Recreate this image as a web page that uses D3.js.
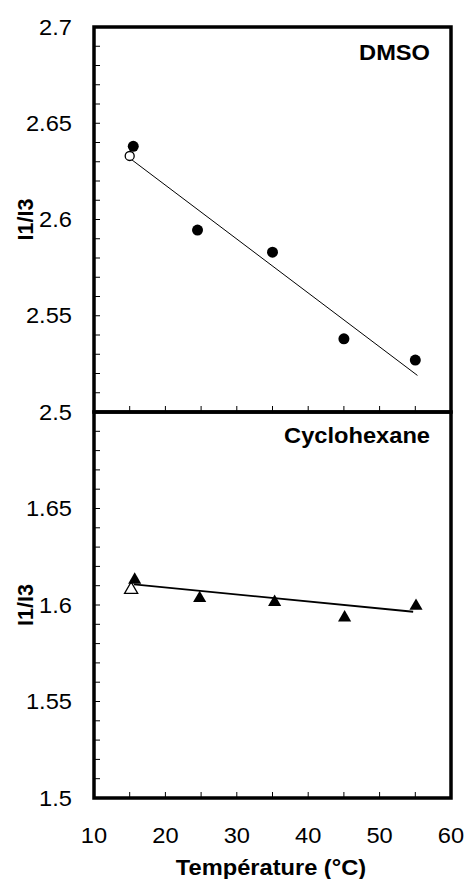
<!DOCTYPE html>
<html><head><meta charset="utf-8">
<script src="https://cdn.jsdelivr.net/npm/d3@7"></script>
<style>html,body{margin:0;padding:0;background:#fff;}svg{display:block;}</style>
</head><body>
<script>
// ---- data ----
const xTickLabels = [10, 20, 30, 40, 50, 60];
const topTickLabels = [2.5, 2.55, 2.6, 2.65, 2.7];
const botTickLabels = [1.5, 1.55, 1.6, 1.65];
const dmsoT = [15.5, 24.5, 35, 45, 55];
const dmsoI = [2.638, 2.5945, 2.583, 2.538, 2.527];
const dmsoOpenT = [15];
const dmsoOpenI = [2.633];
const dmsoFitT = [15.3, 55.3];
const dmsoFitI = [2.631, 2.519];
const cycT = [15.7, 24.8, 35.3, 45.1, 55.1];
const cycI = [1.6135, 1.604, 1.602, 1.594, 1.600];
const cycOpenT = [15.2];
const cycOpenI = [1.6085];
const cycFitT = [15.6, 54.7];
const cycFitI = [1.6107, 1.5965];

const W = 466, H = 879;
const FONT = "'Liberation Sans', Arial, sans-serif";
const SX = 1.1, FS = 21.5;

const svg = d3.select("body").append("svg").attr("width", W).attr("height", H);

const x = d3.scaleLinear().domain([10, 60]).range([94, 451]);
const yTop = d3.scaleLinear().domain([2.5, 2.7]).range([412, 27]);
const yBot = d3.scaleLinear().domain([1.5, 1.7]).range([798, 412]);

function txt(g, s, tx, ty, anchor, bold) {
  g.append("text").attr("transform", `translate(${tx},${ty}) scale(${SX},1)`)
    .attr("text-anchor", anchor).attr("font-family", FONT)
    .attr("font-size", FS).attr("font-weight", bold ? "bold" : "normal")
    .attr("fill", "#000").text(s);
}

function panel(y, labels, title, titleY, fitT, fitI, ptsT, ptsI, openT, openI, marker, fitW) {
  const g = svg.append("g");
  // inner ticks y
  const yTicks = d3.range(0, 21).map(i => y.domain()[0] + i * 0.01);
  g.selectAll(null).data(yTicks).enter().append("line")
    .attr("x1", x(10)).attr("x2", x(10) + 6)
    .attr("y1", d => y(d)).attr("y2", d => y(d))
    .attr("stroke", "#000").attr("stroke-width", 1);
  // inner ticks x
  const xTicks = d3.range(15, 60, 5);
  g.selectAll(null).data(xTicks).enter().append("line")
    .attr("x1", d => x(d)).attr("x2", d => x(d))
    .attr("y1", y.range()[0]).attr("y2", y.range()[0] - 6)
    .attr("stroke", "#000").attr("stroke-width", 1);
  // y labels
  labels.forEach(v => txt(g, String(v), 72, y(v) + 7.5, "end", false));
  // y title
  g.append("text").attr("transform", `translate(33,${(y.range()[0] + y.range()[1]) / 2}) rotate(-90)`)
    .attr("text-anchor", "middle").attr("font-family", FONT).attr("font-size", FS)
    .attr("font-weight", "bold").text("I1/I3");
  // panel title
  txt(g, title, 430, titleY, "end", true);
  // fit line
  const line = d3.line().x(d => x(d[0])).y(d => y(d[1]));
  g.append("path").datum(fitT.map((t, i) => [t, fitI[i]]))
    .attr("d", line).attr("fill", "none").attr("stroke", "#000").attr("stroke-width", fitW);
  // markers
  if (marker === "circle") {
    g.selectAll(null).data(openT.map((t, i) => [t, openI[i]])).enter().append("circle")
      .attr("cx", d => x(d[0])).attr("cy", d => y(d[1])).attr("r", 4.5)
      .attr("fill", "#fff").attr("stroke", "#000").attr("stroke-width", 1.3);
    g.selectAll(null).data(ptsT.map((t, i) => [t, ptsI[i]])).enter().append("circle")
      .attr("cx", d => x(d[0])).attr("cy", d => y(d[1])).attr("r", 5.5)
      .attr("fill", "#000");
  } else {
    const tri = d3.symbol().type(d3.symbolTriangle).size(75);
    g.selectAll(null).data(openT.map((t, i) => [t, openI[i]])).enter().append("path")
      .attr("d", tri).attr("transform", d => `translate(${x(d[0])},${y(d[1]) + 1})`)
      .attr("fill", "#fff").attr("stroke", "#000").attr("stroke-width", 1.3);
    g.selectAll(null).data(ptsT.map((t, i) => [t, ptsI[i]])).enter().append("path")
      .attr("d", tri).attr("transform", d => `translate(${x(d[0])},${y(d[1]) + 1})`)
      .attr("fill", "#000");
  }
}

panel(yTop, topTickLabels, "DMSO", 60, dmsoFitT, dmsoFitI, dmsoT, dmsoI, dmsoOpenT, dmsoOpenI, "circle", 1);
panel(yBot, botTickLabels, "Cyclohexane", 443, cycFitT, cycFitI, cycT, cycI, cycOpenT, cycOpenI, "triangle", 1.8);

// frames
const fr = svg.append("g").attr("fill", "none").attr("stroke", "#000").attr("stroke-width", 3.5);
fr.append("rect").attr("x", x(10)).attr("y", yTop(2.7)).attr("width", x(60) - x(10)).attr("height", yTop(2.5) - yTop(2.7));
fr.append("rect").attr("x", x(10)).attr("y", yBot(1.7)).attr("width", x(60) - x(10)).attr("height", yBot(1.5) - yBot(1.7));

// x axis labels
const gx = svg.append("g");
xTickLabels.forEach(v => txt(gx, String(v), x(v), 843, "middle", false));
txt(gx, "Température (°C)", 271, 875, "middle", true);
</script>
</body></html>
